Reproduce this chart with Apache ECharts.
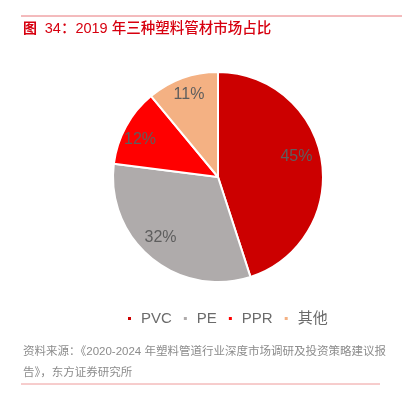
<!DOCTYPE html>
<html><head><meta charset="utf-8">
<script src="https://cdn.jsdelivr.net/npm/echarts@6/dist/echarts.min.js"></script>
<style>html,body{margin:0;padding:0;background:#fff}#c{width:406px;height:395px}</style>
</head><body><div id="c"></div>
<script>
const categories = ['PVC', 'PE', 'PPR', '其他'];
const values = [45, 32, 12, 11];
const colors = ['#CC0000', '#AFABAB', '#FF0000', '#F4B183'];
const labelOffsets = [[-6, -7], [-3, -5], [-3, 4], [0, -2]];
const titleNum = '图';
const titleRest = '34：2019 年三种塑料管材市场占比';
const sourceLines = ['资料来源：《2020-2024 年塑料管道行业深度市场调研及投资策略建议报', '告》，东方证券研究所'];

const font = '"Liberation Sans", "Noto Sans CJK SC", sans-serif';
const data = categories.map((n, i) => ({ name: n, value: values[i], itemStyle: { color: colors[i] } }));
const chart = echarts.init(document.getElementById('c'));
chart.setOption({
  animation: false,
  graphic: [
    { type: 'line', shape: { x1: 21, y1: 16, x2: 402, y2: 16 }, style: { stroke: '#E8777A', lineWidth: 1 } },
    { type: 'text', left: 23, top: 22, style: {
        text: '{a|' + titleNum + '}  {b|' + titleRest + '}',
        rich: {
          a: { fill: '#D7000F', fontSize: 14, fontWeight: 'bold', fontFamily: font },
          b: { fill: '#D7000F', fontSize: 14.5, fontWeight: 500, fontFamily: font }
        },
        fill: '#D7000F', font: '14px ' + font } },
    { type: 'text', left: 23, top: 346, style: { text: sourceLines[0], fill: '#8C8C8C', font: '11.5px ' + font } },
    { type: 'text', left: 23, top: 367, style: { text: sourceLines[1], fill: '#8C8C8C', font: '11.5px ' + font } },
    { type: 'line', shape: { x1: 21, y1: 384, x2: 380, y2: 384 }, style: { stroke: '#EE9A9A', lineWidth: 1 } }
  ],
  legend: {
    data: categories,
    left: 121, top: 306,
    icon: 'rect', itemWidth: 5, itemHeight: 5, itemGap: 10,
    textStyle: { color: '#6B6B6B', fontSize: 15, fontFamily: font, padding: [0, 0, 0, 4] }
  },
  series: [
    {
      type: 'pie', center: [218, 177], radius: [0, 105], startAngle: 90, clockwise: true,
      data: data, label: { show: false }, labelLine: { show: false },
      itemStyle: { borderColor: '#fff', borderWidth: 2 }, silent: true
    },
    {
      type: 'pie', center: [218, 177], radius: [60, 105], startAngle: 90, clockwise: true,
      data: data.map((d, i) => ({ name: d.name, value: d.value,
        itemStyle: { color: 'rgba(0,0,0,0)' }, label: { offset: labelOffsets[i] } })),
      label: { show: true, position: 'inside', formatter: '{c}%', color: '#5E5E5E', fontSize: 16, fontFamily: font },
      labelLine: { show: false }, itemStyle: { borderWidth: 0 }, silent: true, legendHoverLink: false
    }
  ]
});
</script></body></html>
